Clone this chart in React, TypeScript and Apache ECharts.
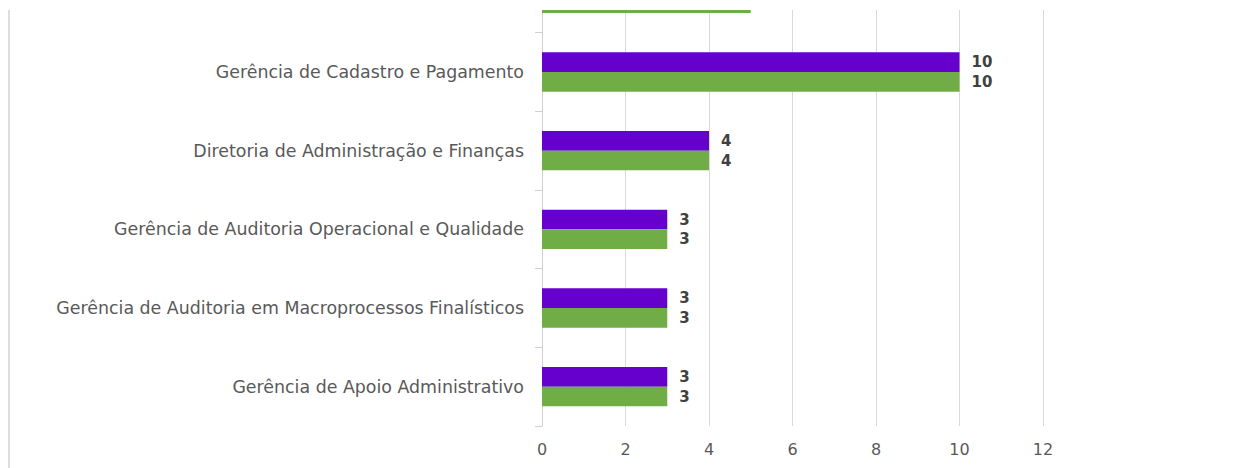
import React, { useEffect, useRef } from "react";
import * as echarts from "echarts";

const categories = [
  "Gerência de Apoio Administrativo",
  "Gerência de Auditoria em Macroprocessos Finalísticos",
  "Gerência de Auditoria Operacional e Qualidade",
  "Diretoria de Administração e Finanças",
  "Gerência de Cadastro e Pagamento",
  "",
];
const purpleValues = [3, 3, 3, 4, 10, 5];
const greenValues = [3, 3, 3, 4, 10, 5];
const xTicks = { min: 0, max: 12, interval: 2 };

export default function App() {
  const ref = useRef<HTMLDivElement>(null);
  useEffect(() => {
    if (!ref.current) return;
    const chart = echarts.init(ref.current, undefined, { renderer: "svg" });
    const labelStyle = {
      show: true,
      position: "right" as const,
      distance: 12,
      color: "#404040",
      fontWeight: "bold" as const,
      fontSize: 15,
      fontFamily: "DejaVu Sans",
    };
    // the top category is cut off by the picture's top edge: its value labels are not visible
    const toItems = (vals: number[]) =>
      vals.map((v, i) => (i === vals.length - 1 ? { value: v, label: { show: false } } : v));
    chart.setOption({
      animation: false,
      backgroundColor: "#ffffff",
      grid: { left: 542, right: 213, top: 14, height: 472, containLabel: false },
      xAxis: {
        type: "value",
        min: xTicks.min,
        max: xTicks.max,
        interval: xTicks.interval,
        axisLine: { show: false },
        axisTick: { show: false },
        splitLine: { show: true, lineStyle: { color: "#d9d9d9", width: 1 } },
        axisLabel: { color: "#595959", fontSize: 16, fontFamily: "DejaVu Sans", margin: 15 },
      },
      yAxis: {
        type: "category",
        data: categories,
        axisLine: { show: true, lineStyle: { color: "#d0d0d0", width: 1 } },
        axisTick: { show: true, length: 7, lineStyle: { color: "#d0d0d0" } },
        axisLabel: { color: "#595959", fontSize: 17.4, fontFamily: "DejaVu Sans", margin: 18 },
      },
      graphic: [
        { type: "rect", shape: { x: 8, y: 0, width: 2, height: 546 }, style: { fill: "#dddddd" }, silent: true },
      ],
      series: [
        {
          type: "bar",
          name: "Roxo",
          data: toItems(purpleValues),
          barGap: "0%",
          barCategoryGap: "50%",
          itemStyle: { color: "#6600CC" },
          label: labelStyle,
        },
        {
          type: "bar",
          name: "Verde",
          data: toItems(greenValues),
          barGap: "0%",
          barCategoryGap: "50%",
          itemStyle: { color: "#70AD47" },
          label: labelStyle,
        },
      ],
    });
    return () => chart.dispose();
  }, []);
  return (
    <div style={{ position: "absolute", top: 0, left: 0, width: 1256, height: 468, background: "#fff" }}>
      <div style={{ position: "absolute", top: 10, left: 0, width: 1256, height: 458, overflow: "hidden" }}>
        <div ref={ref} style={{ position: "absolute", top: -70, left: 0, width: 1256, height: 546 }} />
      </div>
    </div>
  );
}
